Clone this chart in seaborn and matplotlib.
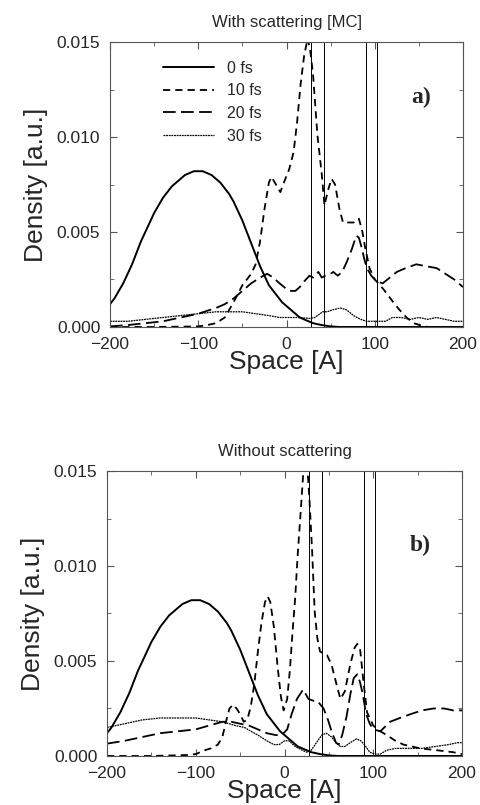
"""
plot.py - charge density snapshots, with and without scattering.
"""

import numpy as np
import matplotlib
matplotlib.use("Agg")
import matplotlib.pyplot as plt
from matplotlib.ticker import MultipleLocator, FormatStrFormatter
import seaborn as sns

# ── Data ──────────────────────────────────────────────────────────────────────

# initial wave packet, same in both panels
x_0fs = [-200, -195, -190, -185, -180, -175, -170, -165, -160, -155, -150,
         -145, -140, -135, -130, -125, -120, -115, -110, -105, -100, -95,
         -90, -85, -80, -75, -70, -65, -60, -55, -50, -45, -40, -35, -30,
         -25, -20, -15, -10, -5, 0, 5, 10, 15, 20, 25, 30, 35, 40, 50, 60,
         100, 200]
y_0fs = [0.0012, 0.0015, 0.0019, 0.0023, 0.0028, 0.0033, 0.0039, 0.0045,
         0.0050, 0.0055, 0.0060, 0.0064, 0.0068, 0.0071, 0.0074, 0.0076,
         0.0078, 0.0080, 0.0081, 0.0082, 0.0082, 0.0082, 0.0081, 0.0080,
         0.0078, 0.0076, 0.0073, 0.0070, 0.0066, 0.0061, 0.0056, 0.0050,
         0.0044, 0.0038, 0.0032, 0.0027, 0.0022, 0.0019, 0.0016, 0.0013,
         0.0011, 0.0009, 0.0007, 0.0005, 0.0004, 0.0003, 0.0002, 0.00015,
         0.0001, 0.00003, 0.0, 0.0, 0.0]

# panel a) with scattering
xa_10 = [-200, -150, -100, -90, -80, -70, -60, -50, -40, -35, -30, -25, -20,
         -17, -12, -7, -3, 3, 8, 12, 16, 20, 24, 27, 30, 35, 40, 43, 47, 51,
         55, 60, 64, 70, 76, 82, 86, 89, 94, 100, 106, 113, 121, 128, 136,
         144, 151, 160, 200]
ya_10 = [0.0, 0.0, 0.00003, 0.0001, 0.0002, 0.0005, 0.0013, 0.0022, 0.0028,
         0.0033, 0.0045, 0.0062, 0.0076, 0.0079, 0.0075, 0.0071, 0.0076,
         0.0083, 0.0092, 0.0108, 0.0128, 0.0143, 0.0152, 0.0145, 0.0133,
         0.0101, 0.0080, 0.0064, 0.0072, 0.0078, 0.0075, 0.0062, 0.0055,
         0.0055, 0.0055, 0.0057, 0.0050, 0.0042, 0.0031, 0.0025, 0.0022,
         0.0018, 0.0013, 0.0009, 0.0005, 0.0002, 0.0001, 0.0, 0.0]

xa_20 = [-200, -180, -160, -140, -120, -100, -80, -70, -60, -50, -40, -30,
         -22, -15, -8, 0, 4, 10, 15, 20, 26, 30, 36, 40, 44, 50, 53, 58, 63,
         68, 74, 79, 82, 85, 88, 91, 96, 102, 109, 117, 125, 135, 147, 158,
         170, 180, 190, 200]
ya_20 = [0.00003, 0.0001, 0.0002, 0.0003, 0.0005, 0.0007, 0.0010, 0.0012,
         0.0015, 0.0019, 0.0023, 0.0026, 0.0028, 0.0026, 0.0023, 0.0020,
         0.0019, 0.0019, 0.0021, 0.0024, 0.0027, 0.0026, 0.0029, 0.0026,
         0.0027, 0.0028, 0.0029, 0.0027, 0.0029, 0.0034, 0.0041, 0.0048,
         0.0047, 0.0042, 0.0036, 0.0031, 0.0027, 0.0024, 0.0023, 0.0026,
         0.0029, 0.0031, 0.0033, 0.0032, 0.0031, 0.0028, 0.0025, 0.0021]

xa_30 = [-200, -180, -160, -140, -120, -100, -80, -65, -50, -35, -20, -8, 5,
         15, 26, 32, 38, 41, 46, 52, 61, 68, 76, 84, 91, 100, 106, 112, 120,
         130, 140, 150, 160, 170, 180, 190, 200]
ya_30 = [0.0003, 0.0003, 0.0004, 0.0005, 0.0006, 0.0007, 0.0008, 0.0008,
         0.0008, 0.0007, 0.0006, 0.0005, 0.0005, 0.0005, 0.00045, 0.0005,
         0.0007, 0.0008, 0.0008, 0.0009, 0.0010, 0.0009, 0.0006, 0.0004,
         0.0003, 0.0003, 0.0003, 0.0003, 0.0005, 0.0005, 0.0004, 0.0005,
         0.0004, 0.0005, 0.0004, 0.0003, 0.0003]

# panel b) without scattering
xb_10 = [-200, -150, -110, -100, -90, -83, -75, -70, -66, -62, -58, -54, -50,
         -46, -42, -38, -34, -30, -26, -22, -19, -16, -12, -8, -4, -1, 3, 6,
         9, 12, 15, 18, 21, 24, 26, 28, 31, 34, 37, 40, 44, 48, 53, 59, 63,
         68, 74, 79, 82, 85, 89, 93, 100, 108, 115, 125, 134, 153, 172, 190,
         200]
yb_10 = [0.0, 0.0, 0.00005, 0.0001, 0.0003, 0.0004, 0.0006, 0.0010, 0.0018,
         0.0025, 0.0027, 0.0025, 0.0022, 0.0018, 0.0019, 0.0026, 0.0038,
         0.0055, 0.0070, 0.0081, 0.0084, 0.0081, 0.0068, 0.0048, 0.0031,
         0.0024, 0.0030, 0.0045, 0.0065, 0.0083, 0.0107, 0.0127, 0.0148,
         0.0152, 0.0150, 0.0136, 0.0109, 0.0076, 0.0062, 0.0055, 0.0054,
         0.0053, 0.0048, 0.0037, 0.0030, 0.0034, 0.0048, 0.0057, 0.0059,
         0.0057, 0.0039, 0.0023, 0.0016, 0.0013, 0.0011, 0.0008, 0.0006,
         0.0004, 0.0003, 0.0002, 0.0001]

xb_20 = [-200, -180, -160, -140, -120, -100, -85, -70, -60, -50, -40, -30,
         -20, -10, -3, 3, 8, 14, 21, 27, 33, 37, 44, 49, 53, 58, 61, 65, 70,
         74, 78, 82, 85, 88, 92, 96, 100, 108, 119, 130, 142, 155, 168, 180,
         190, 200]
yb_20 = [0.00065, 0.0008, 0.0010, 0.0012, 0.0013, 0.0014, 0.0016, 0.0018,
         0.0018, 0.0017, 0.0016, 0.0014, 0.0012, 0.0011, 0.0011, 0.0014,
         0.0022, 0.0030, 0.0035, 0.0030, 0.0029, 0.0029, 0.0025, 0.0019,
         0.0013, 0.0007, 0.0006, 0.0011, 0.0021, 0.0032, 0.0041, 0.0043,
         0.0039, 0.0033, 0.0022, 0.0017, 0.0014, 0.0013, 0.0018, 0.0020,
         0.0022, 0.0024, 0.0025, 0.0025, 0.0024, 0.0024]

xb_30 = [-200, -180, -160, -140, -120, -100, -85, -70, -55, -45, -38, -30,
         -20, -12, -6, 0, 5, 12, 20, 25, 30, 36, 42, 47, 53, 58, 63, 68, 74,
         81, 86, 90, 96, 102, 108, 115, 125, 140, 155, 170, 185, 195, 200]
yb_30 = [0.0015, 0.0017, 0.0019, 0.0020, 0.0020, 0.0020, 0.0019, 0.0018,
         0.0016, 0.0015, 0.0013, 0.0011, 0.0008, 0.0006, 0.0006, 0.0008,
         0.0008, 0.0005, 0.0003, 0.0002, 0.0003, 0.0007, 0.0011, 0.0012,
         0.0010, 0.0007, 0.0005, 0.0005, 0.0007, 0.0009, 0.0008, 0.0006,
         0.0002, 0.0001, 0.0001, 0.0003, 0.0004, 0.0004, 0.0004, 0.0005,
         0.0006, 0.0007, 0.0007]

barriers = [28, 42, 90, 102]
labels = ["0 fs", "10 fs", "20 fs", "30 fs"]
titles = ["With scattering [MC]", "Without scattering"]
panel_tags = ["a)", "b)"]

# ── Styling ───────────────────────────────────────────────────────────────────

sns.set_style("ticks")
plt.rcParams["font.family"] = ["Liberation Sans", "DejaVu Sans"]

STYLES = [
    dict(linewidth=1.4, linestyle="-"),
    dict(linewidth=1.3, linestyle=(0, (4, 2.8))),
    dict(linewidth=1.3, linestyle=(0, (7, 3))),
    dict(linewidth=0.9, linestyle=(0, (1.5, 0.6))),
]


def draw_panel(ax, series, title, tag, legend=False):
    for (x, y), lab, st in zip(series, labels, STYLES):
        sns.lineplot(x=x, y=y, ax=ax, color="black",
                     label=lab if legend else None, **st)
    for b in barriers:
        ax.axvline(b, color="black", linewidth=0.7)
    ax.set_xlim(-200, 200)
    ax.set_ylim(0, 0.015)
    ax.xaxis.set_major_locator(MultipleLocator(100))
    ax.xaxis.set_minor_locator(MultipleLocator(50))
    ax.yaxis.set_major_locator(MultipleLocator(0.005))
    ax.yaxis.set_minor_locator(MultipleLocator(0.0025))
    ax.yaxis.set_major_formatter(FormatStrFormatter("%.3f"))
    ax.tick_params(which="both", direction="in", top=True, right=True,
                   labelsize=12.5, color="#555555", pad=7)
    ax.tick_params(which="major", length=5)
    ax.tick_params(which="minor", length=3)
    for sp in ax.spines.values():
        sp.set_linewidth(0.8)
        sp.set_color("#555555")
    ax.set_title(title, fontsize=12, pad=11)
    ax.set_xlabel("Space [A]", fontsize=19, labelpad=-1)
    ax.set_ylabel("Density [a.u.]", fontsize=19, labelpad=6)
    ax.text(153, 0.0118 if tag == "a)" else 0.0108, tag, fontsize=17,
            fontweight="bold", family="Liberation Serif", ha="center")
    if legend:
        ax.legend(loc="upper left", bbox_to_anchor=(0.11, 0.985),
                  frameon=False, fontsize=11.5, handlelength=3.2,
                  labelspacing=0.48, handletextpad=0.8)
    elif ax.get_legend() is not None:
        ax.get_legend().remove()


fig = plt.figure(figsize=(4.81, 8.05), dpi=100)
ax_a = fig.add_axes([0.2287, 0.5938, 0.734, 0.354])
ax_b = fig.add_axes([0.2225, 0.0609, 0.738, 0.354])

series_a = [(x_0fs, y_0fs), (xa_10, ya_10), (xa_20, ya_20), (xa_30, ya_30)]
series_b = [(x_0fs, y_0fs), (xb_10, yb_10), (xb_20, yb_20), (xb_30, yb_30)]

draw_panel(ax_a, series_a, titles[0], panel_tags[0], legend=True)
draw_panel(ax_b, series_b, titles[1], panel_tags[1])

fig.savefig("out.png", dpi=100)
plt.close(fig)
